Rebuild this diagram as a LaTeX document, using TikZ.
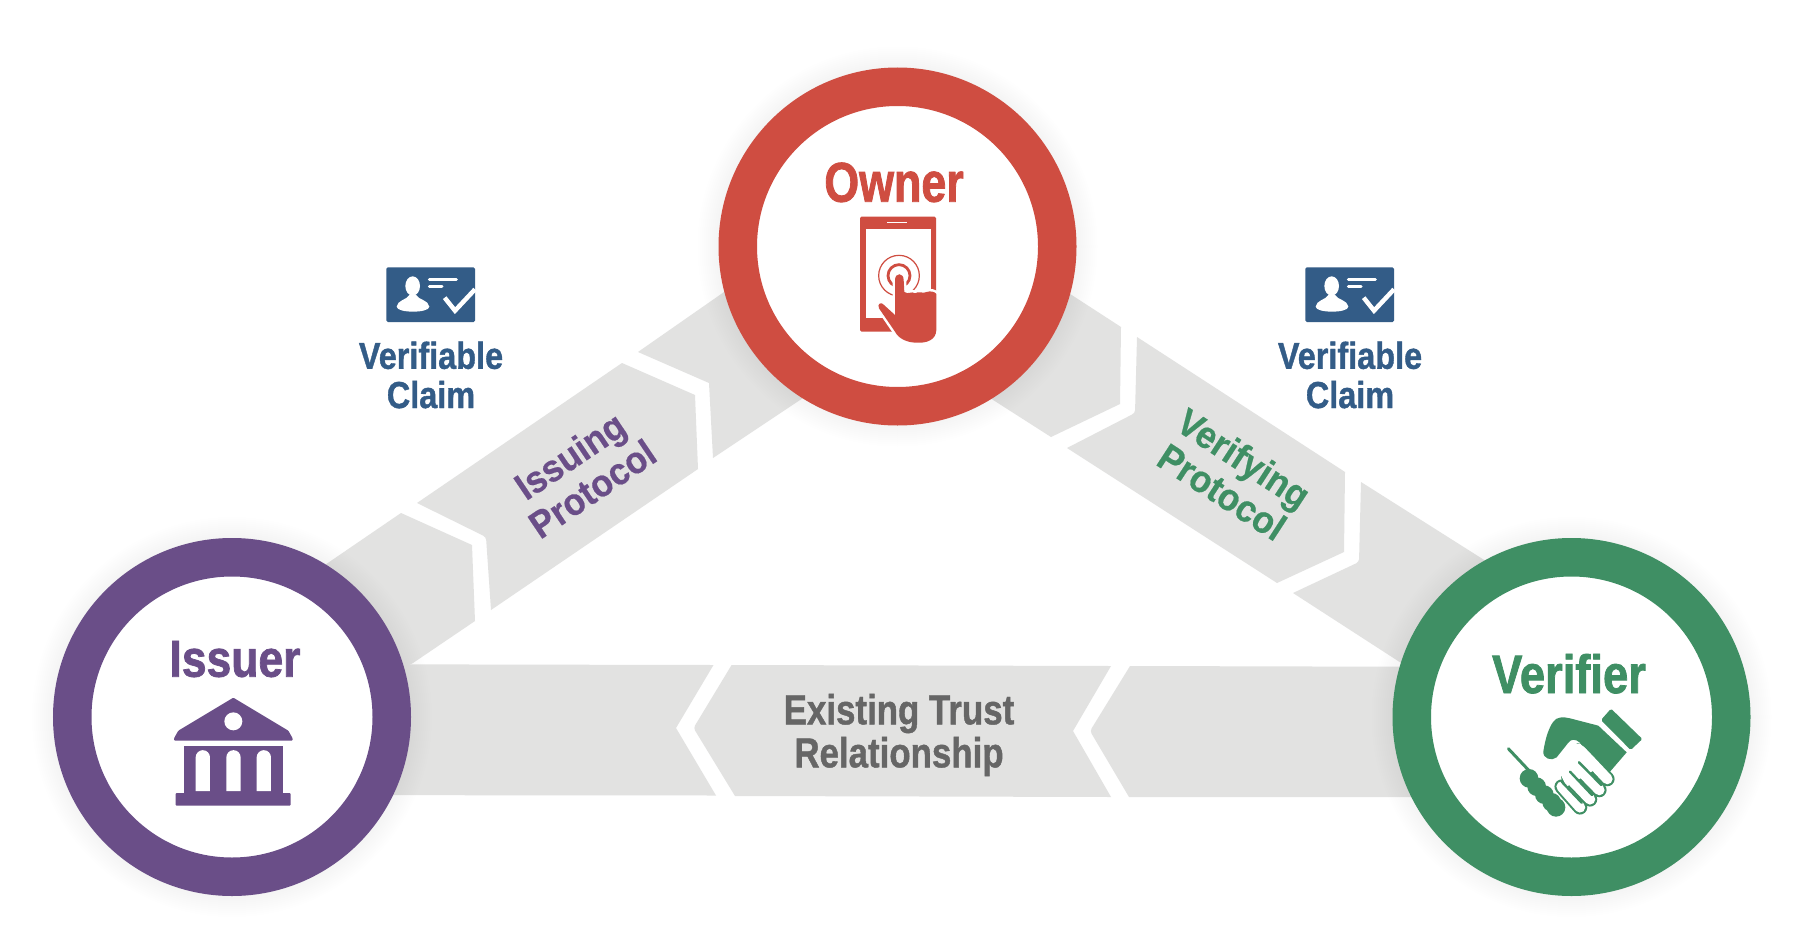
\documentclass[tikz,border=0pt]{standalone}
\usepackage{fontspec}
\setmainfont{Liberation Sans}
\newfontfamily\condA[BoldFont={Liberation Sans Bold},BoldFeatures={FakeStretch=0.80,FakeBold=1.4}]{Liberation Sans}
\newfontfamily\condD[BoldFont={Liberation Sans Bold},BoldFeatures={FakeStretch=0.855,FakeBold=1.4}]{Liberation Sans}
\newfontfamily\condE[BoldFont={Liberation Sans Bold},BoldFeatures={FakeStretch=0.84,FakeBold=1.4}]{Liberation Sans}
\newfontfamily\condB[BoldFont={Liberation Sans Bold},BoldFeatures={FakeStretch=0.865,FakeBold=1.0}]{Liberation Sans}
\newfontfamily\condC[BoldFont={Liberation Sans Bold},BoldFeatures={FakeStretch=0.93,FakeBold=0.5}]{Liberation Sans}
\newfontfamily\condF[BoldFont={Liberation Sans Bold},BoldFeatures={FakeStretch=0.83,FakeBold=1.0}]{Liberation Sans}
\definecolor{bandgrey}{HTML}{E2E2E1}
\definecolor{ownerred}{HTML}{CF4D41}
\definecolor{issuerpurple}{HTML}{6A4E88}
\definecolor{verifiergreen}{HTML}{3F8F64}
\definecolor{claimblue}{HTML}{335C87}
\definecolor{trustgrey}{HTML}{666666}
\tikzset{
  x=1pt,y=-1pt,
  band/.style={fill=bandgrey},
  ring/.style={circle,draw=#1,fill=white,line width=38.5pt,minimum size=319.5pt,inner sep=0pt},
  role/.style={font=\condA\bfseries\fontsize{56}{60}\selectfont,text=#1,anchor=base,inner sep=0pt},
  claimlabel/.style={font=\condB\bfseries\fontsize{37.5}{39.2}\selectfont,text=claimblue,align=center,inner sep=0pt},
  protolabel/.style={font=\condC\bfseries\fontsize{38}{40}\selectfont,text=#1,align=center,inner sep=0pt},
  trustlabel/.style={font=\condF\bfseries\fontsize{42}{43}\selectfont,text=trustgrey,align=center,inner sep=0pt},
  zoomed/.style={x=0.33333pt,y=-0.33333pt},
}
\newcommand{\softshadow}[2]{%
  \foreach \rr in {180,182,...,200}{\fill[black,opacity=0.0045] (#1,#2) circle[radius=\rr pt];}}
\newcommand{\claimicon}[1]{%
  \begin{scope}[shift={(#1,250)},zoomed]
    \fill[claimblue,rounded corners=1.5pt] (139,52) rectangle (405,216);
    \fill[white] (218,108) ellipse[x radius=22,y radius=29];
    \fill[white] (170,170) .. controls (172,150) and (200,150) .. (208,135) -- (228,135) .. controls (236,150) and (266,150) .. (268,170) .. controls (268,190) and (170,190) .. (170,170) -- cycle;
    \draw[white,line width=3pt,line cap=round] (268,87) -- (349,87);
    \draw[white,line width=3pt,line cap=round] (268,110) -- (306,110);
    \draw[white,line width=4.5pt] (314,143) -- (345,182) -- (405,118);
  \end{scope}}
\begin{document}
\begin{tikzpicture}
\useasboundingbox (0,0) rectangle (1804,950);
\fill[white] (0,0) rectangle (1804,950);

% --- bands
\fill[band] (780,253) -- (638,352) -- (709,383) -- (713,458) -- (860,360) -- cycle;
\fill[band] (622,363) -- (695,395) -- (698,469) -- (491,610) [rounded corners=3pt] -- (486,537) [sharp corners] -- (417,503) -- cycle;
\fill[band] (401,513) -- (472,545) -- (475,621) -- (413,663) -- (300,720) -- (300,582) -- cycle;

\fill[band] (1010,255) -- (1121,327) -- (1120,404) -- (1051,437) -- (940,366) -- cycle;
\fill[band] (1137,337) -- (1345,472) -- (1344,552) -- (1277,583) -- (1067,448) [rounded corners=3pt] -- (1135,413) [sharp corners] -- cycle;
\fill[band] (1361,482) -- (1530,589) -- (1480,714) -- (1293,593) [rounded corners=3pt] -- (1359,562) [sharp corners] -- cycle;

\fill[band] (232,664) -- (713.5,665) -- (676,728) -- (716,795.5) -- (232,795) -- cycle;
\fill[band] (731.6,665) -- (1111,666) -- (1073,731) -- (1111,797) -- (735,796) [rounded corners=3pt] -- (693.5,728) [sharp corners] -- cycle;
\fill[band] (1130,666) -- (1500,667) -- (1500,797) -- (1129,797) [rounded corners=3pt] -- (1090,731) [sharp corners] -- cycle;

% --- soft shadows and rings
\softshadow{897.5}{246.5}
\softshadow{232}{717}
\softshadow{1571.5}{717}
\node[ring=ownerred] (owner) at (897.5,246.5) {};
\node[ring=issuerpurple] (issuer) at (232,717) {};
\node[ring=verifiergreen] (verifier) at (1571.5,717) {};

% --- role titles
\node[role=ownerred] (ownertitle) at (894,201.7) {Owner};
\node[role=issuerpurple,font=\condD\bfseries\fontsize{52}{56}\selectfont] (issuertitle) at (235,676.7) {Issuer};
\node[role=verifiergreen,font=\condE\bfseries\fontsize{54}{58}\selectfont] (verifiertitle) at (1569,693) {Verifier};

% --- phone icon
\begin{scope}[shift={(700,50)},zoomed]
  \fill[ownerred,rounded corners=1.5pt] (480,500) rectangle (708,845);
  \fill[white] (497,538) rectangle (692,805);
  \draw[white,line width=1.3pt] (562,517) -- (622,517);
  \draw[ownerred,line width=1.2pt] (597,677) circle[radius=61];
  \draw[ownerred,line width=2.8pt] (597,677) circle[radius=33];
  \path[fill=ownerred,draw=white,line width=5pt,line join=round]
    (585,690) .. controls (585,667) and (611,667) .. (611,690) -- (613,726)
    .. controls (625,735) and (635,722) .. (645,730) .. controls (655,722) and (670,732) .. (680,726)
    .. controls (690,722) and (705,725) .. (709,732) -- (709,840)
    .. controls (708,870) and (680,880) .. (650,878) .. controls (620,878) and (595,865) .. (585,845)
    -- (537,775) .. controls (530,760) and (545,755) .. (552,765) -- (585,795) -- cycle;
  \fill[ownerred]
    (585,690) .. controls (585,667) and (611,667) .. (611,690) -- (613,726)
    .. controls (625,735) and (635,722) .. (645,730) .. controls (655,722) and (670,732) .. (680,726)
    .. controls (690,722) and (705,725) .. (709,732) -- (709,840)
    .. controls (708,870) and (680,880) .. (650,878) .. controls (620,878) and (595,865) .. (585,845)
    -- (537,775) .. controls (530,760) and (545,755) .. (552,765) -- (585,795) -- cycle;
\end{scope}

% --- building icon
\begin{scope}[shift={(30,520)},zoomed]
  \fill[issuerpurple,rounded corners=1pt] (610,533) -- (775,632) -- (788,655) -- (788,662) -- (432,662) -- (432,655) -- (445,632) -- cycle;
  \fill[white] (610,604) circle[radius=27];
  \fill[issuerpurple] (463,678) rectangle (758,822);
  \fill[issuerpurple,rounded corners=1pt] (437,819) rectangle (782,857);
  \foreach \wx in {497,589,680}{
    \fill[white] (\wx,813) -- (\wx,712) arc[start angle=180,end angle=360,radius=21.5] -- (\wx+43,813) -- cycle;
  }
\end{scope}

% --- handshake icon
\begin{scope}[shift={(1380,520)},zoomed]
  \draw[verifiergreen,line width=3pt,line cap=round] (385,686) -- (450,755);
  \foreach \ax/\ay/\bx/\by in {545/800/600/862,565/770/630/838,590/740/658/810,600/690/682/777}{
    \draw[verifiergreen,line width=14.5pt,line cap=round] (\ax,\ay) -- (\bx,\by);
    \draw[white,line width=10.5pt,line cap=round] (\ax,\ay) -- (\bx,\by);
  }
  \fill[white] (560,675) -- (600,670) -- (660,740) -- (560,800) -- (530,740) -- cycle;
  \draw[verifiergreen,line width=2.4pt,line cap=round] (597,727) -- (664,795);
  \draw[verifiergreen,line width=2.4pt,line cap=round] (570,755) -- (636,825);
  \draw[verifiergreen,line width=2.4pt,line cap=round] (545,785) -- (605,848);
  \foreach \bx/\by in {447/775,470/800,493/824,515/847,528/862}{
    \fill[verifiergreen] (\bx,\by) circle[radius=28];
  }
  \fill[verifiergreen] (490,695) .. controls (495,660) and (505,625) .. (520,605) .. controls (530,590) and (550,590) .. (570,595) -- (655,617) -- (740,697) -- (690,755) -- (600,668) .. controls (585,655) and (572,658) .. (565,668) -- (530,712) .. controls (515,725) and (488,715) .. (490,695) -- cycle;
  \fill[verifiergreen,rounded corners=1.5pt] (693,566) -- (787,657) -- (752,690) -- (663,600) -- cycle;
\end{scope}

% --- claims
\claimicon{340}
\claimicon{1259}
\node[claimlabel] (claimleft) at (431,375) {Verifiable\\Claim};
\node[claimlabel] (claimright) at (1350,375) {Verifiable\\Claim};

% --- protocol labels
\node[protolabel=issuerpurple,rotate=34] (issuing) at (581,472) {Issuing\\Protocol};
\node[protolabel=verifiergreen,rotate=-33] (verifying) at (1233,475) {Verifying\\Protocol};
\node[trustlabel] (trust) at (899,735) {Existing Trust\\Relationship};
\end{tikzpicture}
\end{document}
